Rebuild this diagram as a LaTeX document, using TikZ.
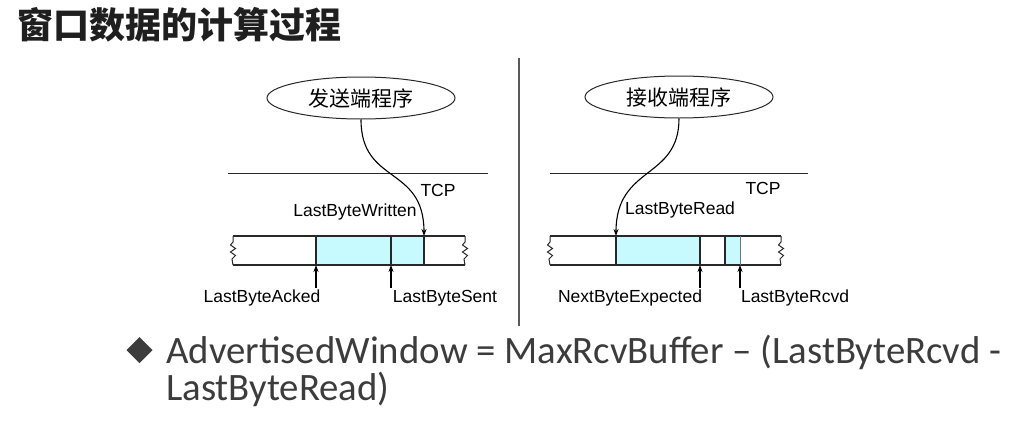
\documentclass[tikz,border=0pt]{standalone}
\usepackage{fontspec}
\setmainfont{Liberation Sans}
\newfontfamily\cjk{Noto Sans CJK SC}
\newfontfamily\calib{Carlito}
\usetikzlibrary{arrows.meta,shapes.geometric}
\definecolor{bufcyan}{RGB}{198,250,255}
\definecolor{linegray}{RGB}{40,40,40}
\definecolor{bodytext}{RGB}{60,60,60}
\tikzset{
  lbl/.style={font=\fontsize{17.5}{17.5}\selectfont, text=black, inner sep=0pt},
  prog/.style={draw=linegray, line width=1pt, ellipse, minimum width=188pt, minimum height=42pt, inner sep=0pt, font=\cjk\fontsize{21}{21}\selectfont},
  bufline/.style={draw=linegray, line width=1.1pt},
  arr/.style={draw=black, line width=1.1pt, -{Stealth[length=7pt,width=5pt]}},
  formula/.style={anchor=base west, inner sep=0pt, text=bodytext, font=\calib\fontsize{38.8}{38.8}\selectfont},
  squig/.pic={\draw[linegray, line width=1pt] (0,0) -- (0,6) -- (-2.5,9) -- (2.5,12.5) -- (-2.5,16) -- (2.5,19.5) -- (-1,23) -- (0,29);}
}
\begin{document}
\begin{tikzpicture}[x=1pt,y=-1pt]
\useasboundingbox[fill=white] (0,0) rectangle (1033,431);
% title
\node[anchor=west, inner sep=0pt, font=\cjk\bfseries\fontsize{36}{36}\selectfont, text=black!88] (title) at (17,25) {窗口数据的计算过程};
% divider
\coordinate (dtop) at (519,58);
\coordinate (dbot) at (519,326);
\draw[line width=2pt, draw=black!65] (dtop) -- (dbot);

% ---------- sender ----------
\node[prog] (send) at (361,98) {发送端程序};
\coordinate (sl1) at (228,173);
\coordinate (sl2) at (488,173);
\draw[line width=1pt, linegray] (sl1) -- (sl2);
\node[lbl] (tcp1) at (438,190) {TCP};
\node[lbl] (lbw) at (355,212) {LastByteWritten};
\fill[bufcyan] (316,236) rectangle (424,265);
\draw[bufline] (233,236) -- (465,236);
\draw[bufline] (233,265) -- (465,265);
\pic at (233,236) {squig};
\pic at (465,236) {squig};
\coordinate (sa) at (316,265);
\coordinate (ss) at (391,265);
\coordinate (sw) at (424,236);
\draw[bufline] (316,236) -- (sa);
\draw[bufline] (391,236) -- (ss);
\draw[bufline] (sw) -- (424,265);
\draw[arr] (send.south) .. controls (361,185) and (424,165) .. (sw);
\node[lbl] (lba) at (262,298) {LastByteAcked};
\node[lbl] (lbs) at (445,298) {LastByteSent};
\draw[arr] (316,288) -- (sa);
\draw[arr] (391,288) -- (ss);

% ---------- receiver ----------
\node[prog] (recv) at (679,97) {接收端程序};
\coordinate (rl1) at (550,173);
\coordinate (rl2) at (808,173);
\draw[line width=1pt, linegray] (rl1) -- (rl2);
\node[lbl] (tcp2) at (763,188) {TCP};
\node[lbl] (lbr) at (680,210) {LastByteRead};
\fill[bufcyan] (616,236) rectangle (700,265);
\fill[bufcyan] (725,236) rectangle (740,265);
\draw[bufline] (550,236) -- (781,236);
\draw[bufline] (550,265) -- (781,265);
\pic at (550,236) {squig};
\pic at (781,236) {squig};
\coordinate (rr) at (616,236);
\coordinate (rn) at (700,265);
\coordinate (rc) at (740,265);
\draw[bufline] (rr) -- (616,265);
\draw[bufline] (700,236) -- (rn);
\draw[bufline] (725,236) -- (725,265);
\draw[draw=black!55, line width=1pt] (740,236) -- (rc);
\draw[arr] (recv.south) .. controls (679,180) and (616,165) .. (rr);
\node[lbl] (nbe) at (630,298) {NextByteExpected};
\node[lbl] (lbrc) at (795,298) {LastByteRcvd};
\draw[arr] (700,288) -- (rn);
\draw[arr] (740,288) -- (rc);

% ---------- formula ----------
\coordinate (bullet) at (139.5,350);
\fill[bodytext] ([xshift=-13pt]bullet) -- ([yshift=-13pt]bullet) -- ([xshift=13pt]bullet) -- ([yshift=13pt]bullet) -- cycle;
\node[formula] (f1) at (166,363) {AdvertisedWindow = MaxRcvBuffer – (LastByteRcvd -};
\node[formula] (f2) at (166,400) {LastByteRead)};
\end{tikzpicture}
\end{document}
